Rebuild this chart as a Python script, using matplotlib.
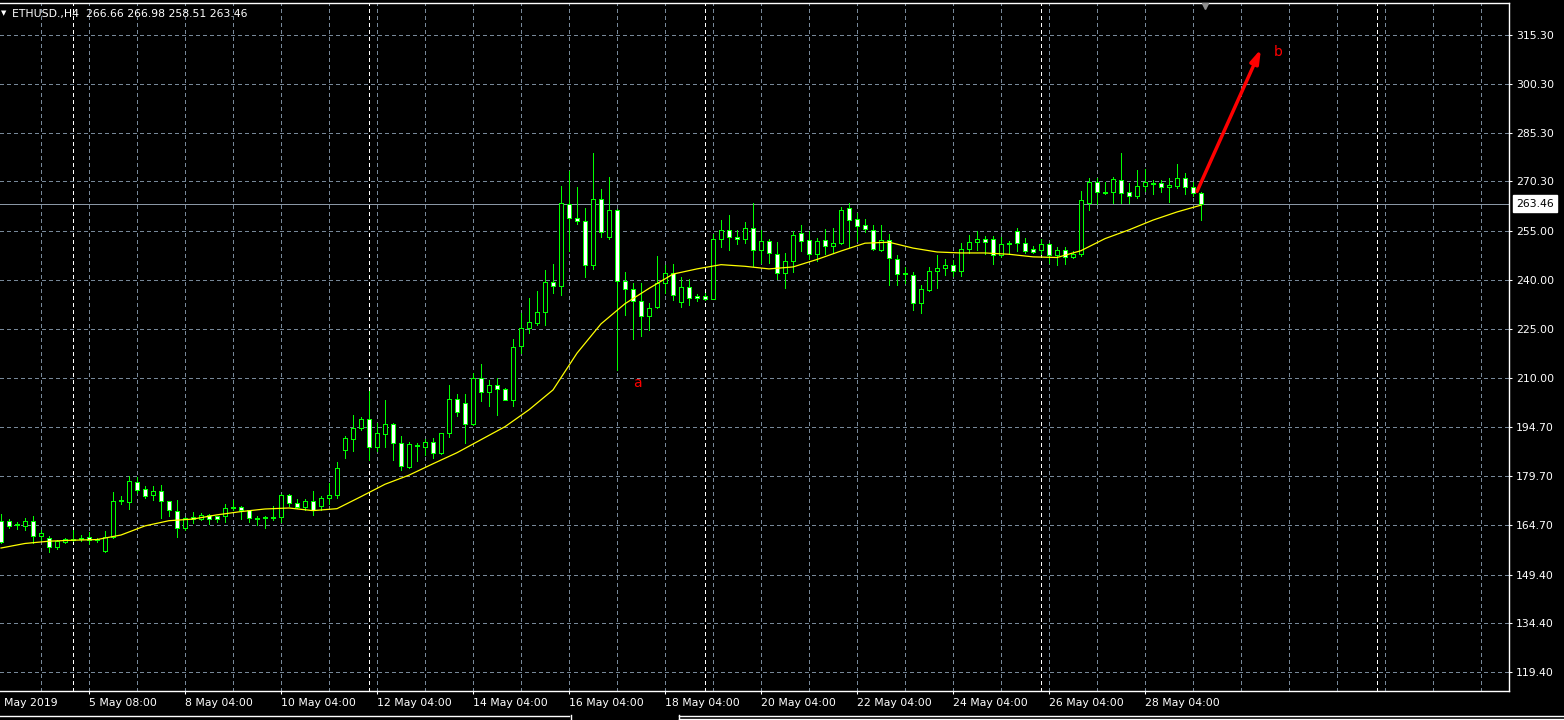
import matplotlib
matplotlib.use("Agg")
import matplotlib.pyplot as plt
from matplotlib.lines import Line2D

# ETHUSD H4 bars, index 0 = first bar visible at the left edge
opens = [165.9, 165.8, 164.6, 164.5, 165.9, 161.4, 160.8, 158.0, 159.6, 160.2,
         160.3, 160.9, 160.1, 156.8, 161.0, 172.2, 171.8, 177.9, 175.6, 174.0,
         175.0, 171.9, 169.1, 163.8, 167.1, 166.5, 167.6, 167.3, 167.3, 170.0,
         170.2, 169.3, 166.6, 166.7, 166.9, 167.0, 173.9, 171.4, 170.1, 172.0,
         170.4, 172.9, 173.9, 187.6, 191.1, 194.4, 197.2, 188.8, 192.8, 195.8,
         189.8, 182.6, 189.0, 188.8, 190.3, 186.7, 192.9, 203.4, 202.2, 195.7,
         209.9, 205.6, 207.7, 206.5, 203.2, 219.6, 225.2, 226.8, 230.1, 239.5,
         238.1, 263.5, 258.9, 258.0, 244.6, 264.8, 253.2, 261.4, 239.7, 237.3,
         233.6, 228.9, 231.6, 239.2, 242.2, 233.3, 237.9, 235.2, 235.2, 234.2,
         252.5, 255.3, 253.3, 252.5, 256.1, 249.2, 251.9, 248.1, 242.2, 245.9,
         254.4, 252.2, 248.1, 252.2, 250.3, 251.3, 262.0, 258.6, 256.8, 255.5,
         249.2, 252.4, 246.5, 241.7, 241.6, 233.0, 236.9, 242.9, 243.7, 244.7,
         242.8, 249.6, 251.8, 252.7, 252.7, 247.7, 251.5, 255.2, 251.5, 249.4,
         249.2, 251.2, 247.7, 249.1, 247.2, 248.1, 263.8, 270.2, 266.8, 266.9,
         270.7, 266.9, 265.9, 268.8, 269.5, 269.7, 268.5, 269.0, 271.2, 268.5,
         266.66]
highs = [168.0, 166.5, 165.6, 166.8, 167.4, 163.1, 161.2, 160.2, 160.6, 163.1,
         161.6, 162.6, 160.8, 162.7, 174.7, 173.5, 179.7, 179.5, 176.6, 176.7,
         176.9, 172.1, 172.3, 167.0, 168.6, 168.3, 168.1, 167.4, 171.2, 172.4,
         170.6, 169.4, 167.5, 167.3, 170.4, 174.3, 174.3, 172.6, 172.7, 175.2,
         173.7, 177.6, 184.1, 192.1, 198.6, 198.0, 206.0, 196.0, 203.2, 196.0,
         191.9, 190.3, 189.8, 191.0, 191.4, 193.1, 207.8, 205.0, 205.0, 211.4,
         214.3, 209.1, 209.9, 206.7, 221.9, 229.7, 234.3, 236.5, 243.0, 244.8,
         269.0, 273.5, 268.6, 262.1, 279.0, 267.9, 271.6, 261.8, 242.5, 239.2,
         239.0, 232.8, 247.3, 244.7, 244.8, 240.8, 240.2, 235.8, 236.0, 254.1,
         258.4, 259.9, 255.4, 257.9, 263.8, 255.4, 252.5, 251.8, 248.4, 255.2,
         256.8, 255.0, 253.0, 255.6, 256.1, 262.3, 263.6, 260.7, 258.7, 256.8,
         256.8, 254.1, 247.6, 244.1, 242.4, 238.4, 243.9, 247.6, 246.4, 246.0,
         251.5, 253.8, 255.1, 253.6, 253.6, 253.3, 252.1, 256.1, 252.8, 250.5,
         252.5, 251.5, 250.0, 250.2, 248.9, 267.4, 271.2, 271.2, 270.2, 271.8,
         279.0, 269.7, 273.8, 274.1, 270.7, 270.7, 271.3, 275.6, 272.9, 270.0,
         266.98]
lows = [159.0, 163.9, 163.3, 163.1, 159.0, 160.2, 156.4, 157.3, 159.2, 159.8,
        159.7, 158.8, 159.5, 156.5, 160.8, 171.1, 169.6, 174.4, 172.9, 172.3,
        166.9, 167.4, 161.0, 163.1, 165.3, 166.1, 165.1, 165.5, 165.7, 169.4,
        166.6, 165.7, 164.7, 163.9, 166.3, 165.7, 170.4, 169.8, 169.4, 167.7,
        169.4, 171.0, 173.1, 185.4, 187.3, 194.0, 184.7, 187.3, 188.8, 184.7,
        181.6, 182.1, 184.2, 186.2, 185.4, 186.5, 191.7, 198.2, 190.0, 195.5,
        202.7, 201.3, 198.4, 203.0, 201.4, 217.6, 223.7, 226.1, 226.3, 235.9,
        235.4, 248.9, 257.2, 240.9, 243.3, 253.2, 252.5, 212.2, 229.1, 221.7,
        222.7, 224.6, 231.3, 235.9, 233.8, 231.6, 232.3, 233.5, 233.8, 234.0,
        250.2, 249.2, 251.0, 251.5, 244.3, 245.3, 245.3, 240.2, 237.6, 242.4,
        248.9, 246.3, 245.8, 247.9, 248.2, 251.0, 250.1, 252.0, 254.8, 249.2,
        248.9, 238.3, 238.3, 239.0, 230.7, 229.9, 236.6, 237.4, 241.4, 241.2,
        241.2, 248.2, 249.1, 247.9, 244.8, 247.2, 247.9, 248.9, 248.4, 248.4,
        247.9, 245.1, 244.6, 245.0, 246.6, 247.4, 261.6, 263.5, 266.4, 263.6,
        263.6, 263.8, 265.1, 267.4, 266.4, 266.9, 264.0, 268.2, 266.4, 265.9,
        258.51]
closes = [159.3, 164.5, 164.8, 166.0, 161.4, 162.1, 158.0, 159.7, 160.4, 160.4,
          160.5, 160.2, 160.3, 161.1, 172.2, 172.4, 178.1, 175.5, 173.7, 175.1,
          171.9, 169.3, 163.9, 166.8, 166.4, 167.7, 166.6, 166.5, 170.0, 170.2,
          169.3, 166.7, 166.8, 166.9, 167.1, 173.9, 171.3, 170.2, 172.1, 169.2,
          173.1, 173.9, 182.2, 191.4, 194.5, 197.2, 188.8, 193.0, 195.8, 189.9,
          182.8, 189.5, 189.2, 190.3, 186.7, 192.9, 203.4, 199.4, 195.7, 209.9,
          205.6, 207.7, 206.5, 203.2, 219.4, 225.2, 227.1, 230.1, 239.5, 238.1,
          263.8, 258.9, 258.0, 244.6, 264.8, 254.6, 261.4, 239.7, 237.3, 233.5,
          228.9, 231.4, 239.2, 242.2, 235.3, 237.9, 234.5, 234.5, 234.2, 252.5,
          255.3, 253.2, 252.7, 255.9, 249.2, 251.9, 248.4, 242.2, 245.9, 253.7,
          252.1, 248.1, 251.9, 250.5, 251.5, 261.5, 258.5, 256.7, 255.6, 249.6,
          252.4, 246.9, 241.9, 241.9, 233.0, 237.1, 242.9, 243.8, 244.7, 242.8,
          249.6, 251.8, 252.7, 251.8, 247.7, 250.9, 250.9, 251.5, 248.9, 248.6,
          251.2, 247.7, 249.1, 247.1, 248.1, 264.5, 270.2, 266.9, 267.0, 271.0,
          266.6, 265.9, 268.8, 270.2, 269.7, 268.5, 269.2, 271.2, 268.5, 266.66,
          263.46]

# yellow moving average at every third bar
ma_idx = [0, 3, 6, 9, 12, 15, 18, 21, 24, 27, 30, 33, 36, 39, 42, 45, 48, 51,
          54, 57, 60, 63, 66, 69, 72, 75, 78, 81, 84, 87, 90, 93, 96, 99, 102,
          105, 108, 111, 114, 117, 120, 123, 126, 129, 132, 135, 138, 141, 144,
          147, 150]
ma_val = [157.6, 159.0, 159.7, 160.0, 160.2, 161.6, 164.4, 166.0, 166.5, 167.8,
          168.8, 169.6, 169.9, 169.1, 169.7, 173.4, 177.2, 180.0, 183.5, 186.9,
          190.9, 194.9, 200.1, 206.2, 217.5, 226.5, 232.7, 237.4, 241.8, 243.4,
          244.7, 244.2, 243.4, 244.0, 246.3, 248.9, 251.3, 251.6, 249.8, 248.6,
          248.3, 248.3, 247.9, 247.1, 246.9, 249.0, 252.7, 255.4, 258.4, 260.9,
          263.0]

y_ticks = [315.30, 300.30, 285.30, 270.30, 255.00, 240.00, 225.00, 210.00,
           194.70, 179.70, 164.70, 149.40, 134.40, 119.40]
x_tick_idx = [11, 23, 35, 47, 59, 71, 83, 95, 107, 119, 131, 143]
x_tick_labels = ["5 May 08:00", "8 May 04:00", "10 May 04:00", "12 May 04:00",
                 "14 May 04:00", "16 May 04:00", "18 May 04:00", "20 May 04:00",
                 "22 May 04:00", "24 May 04:00", "26 May 04:00", "28 May 04:00"]
first_label = "May 2019"
separator_idx = [9, 46, 88, 130, 172]   # weekly period separators (Sunday 00:00)
last_price = 263.46
header = "ETHUSD.,H4  266.66 266.98 258.51 263.46"

W, H = 1564, 720
FS = 7.8
LW = 0.6          # ~1 device pixel for the non-antialiased lines
grid_col = "#778899"
lime = "#00ff00"

fig = plt.figure(figsize=(W / 100, H / 100), dpi=100, facecolor="black")
ax = fig.add_axes([0, 29 / H, 1509 / W, 687.7 / H])
ax.set_facecolor("black")
ax.set_xlim(-0.125, 188.5)
ax.set_ylim(113.65, 325.04)

# grid
for yv in y_ticks:
    ax.axhline(yv, color=grid_col, lw=LW, ls=(0, (4, 4)), zorder=0,
               antialiased=False)
for xv in range(5, 189, 6):
    ax.axvline(xv, color=grid_col, lw=LW, ls=(0, (4, 4)), zorder=0,
               antialiased=False)
for xv in separator_idx:
    ax.axvline(xv, color="white", lw=LW, ls=(0, (4, 4)), zorder=0.5,
               antialiased=False)
ax.axhline(last_price, color="#8a97a5", lw=LW, zorder=0.6, antialiased=False)

# candles
n = len(opens)
idx = list(range(n))
ax.vlines(idx, lows, highs, color=lime, lw=LW, zorder=2, antialiased=False)
bottoms = [min(o, c) for o, c in zip(opens, closes)]
heights = [max(abs(c - o), 0.3) for o, c in zip(opens, closes)]
faces = ["white" if c < o else "black" for o, c in zip(opens, closes)]
ax.bar(idx, heights, bottom=bottoms, width=0.6, color=faces,
       edgecolor=lime, linewidth=LW, zorder=3, antialiased=False)

# moving average
ax.plot(ma_idx, ma_val, color="#ffff00", lw=0.9, zorder=4)

# frame and axes
for s in ["top", "right", "bottom"]:
    ax.spines[s].set_color("white")
    ax.spines[s].set_linewidth(1)
ax.spines["left"].set_visible(False)

ax.yaxis.tick_right()
ax.set_yticks(y_ticks, [f"{v:.2f}" for v in y_ticks])
ax.tick_params(axis="y", colors="white", direction="out", length=2.5,
               width=0.75, pad=2.5, labelsize=FS)
ax.set_xticks(x_tick_idx, x_tick_labels)
ax.tick_params(axis="x", colors="white", direction="out", length=2.5,
               width=0.75, pad=2.5, labelsize=FS)
for lbl in ax.get_xticklabels():
    lbl.set_horizontalalignment("left")

fig.text(4 / W, 1 - 698 / H, first_label, color="white", fontsize=FS,
         ha="left", va="top")

# current price box on the price scale
ax.annotate(f"{last_price:.2f}", xy=(1, last_price),
            xycoords=("axes fraction", "data"), xytext=(7, 0),
            textcoords="offset pixels", ha="left", va="center",
            color="black", fontsize=FS, annotation_clip=False,
            bbox=dict(boxstyle="square,pad=0.3", fc="white", ec="white"))

# header
fig.text(0.5 / W, 1 - 13 / H, "\u25bc", color="white", fontsize=5,
         ha="left", va="center")
fig.text(12 / W, 1 - 14 / H, header, color="white", fontsize=FS,
         ha="left", va="center")

# chart shift marker
ax.plot([150.5], [324.2], marker="v", ms=5, color="#909090", clip_on=False,
        zorder=5)

# red annotations
arrow_start = (149.5, 267.2)
arrow_end = (157.5, 311.0)
ax.annotate("", xy=arrow_end, xytext=arrow_start,
            arrowprops=dict(arrowstyle="-|>,head_length=0.8,head_width=0.25",
                            color="#ff0000", lw=2.5, shrinkA=0, shrinkB=0),
            zorder=6)
ax.text(159.6, 310.1, "b", color="#ff0000", fontsize=10, ha="center",
        va="center", zorder=6)
ax.text(79.5, 208.3, "a", color="#ff0000", fontsize=10, ha="center",
        va="center", zorder=6)

# bottom tab strip
def hline(x0, x1, y):
    fig.add_artist(Line2D([x0 / W, x1 / W], [1 - y / H, 1 - y / H],
                          color="white", lw=1, transform=fig.transFigure))

def vline(x, y0, y1):
    fig.add_artist(Line2D([x / W, x / W], [1 - y0 / H, 1 - y1 / H],
                          color="white", lw=1, transform=fig.transFigure))

hline(0, 569, 715.5)
hline(679, W, 715.5)
hline(679, W, 718.5)
vline(570.5, 715, 720)
vline(678.5, 715, 720)

fig.savefig("out.png", dpi=100, facecolor="black")
